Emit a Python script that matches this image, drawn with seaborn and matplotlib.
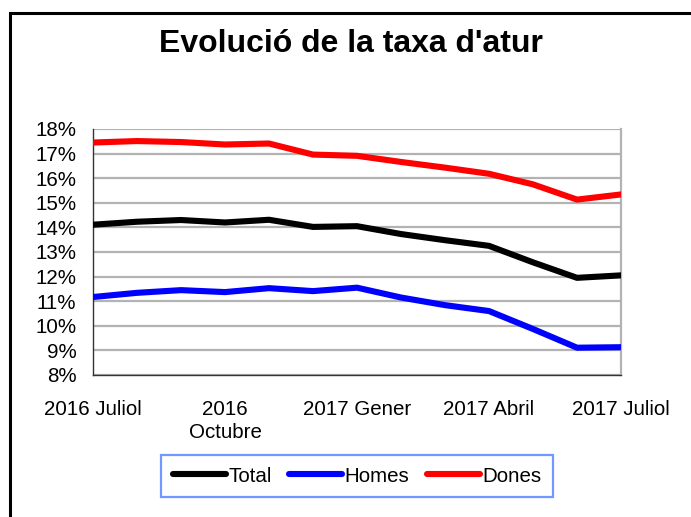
import numpy as np
import pandas as pd
import matplotlib
matplotlib.use("Agg")
import matplotlib.pyplot as plt
import seaborn as sns
from matplotlib.lines import Line2D
from matplotlib.patches import Rectangle

months = ["2016 Juliol", "2016 Agost", "2016 Setembre", "2016 Octubre", "2016 Novembre",
          "2016 Desembre", "2017 Gener", "2017 Febrer", "2017 Març", "2017 Abril",
          "2017 Maig", "2017 Juny", "2017 Juliol"]
total = [14.11, 14.23, 14.30, 14.20, 14.31, 14.02, 14.05, 13.73, 13.48, 13.25, 12.58, 11.95, 12.05]
homes = [11.17, 11.34, 11.45, 11.37, 11.53, 11.41, 11.55, 11.15, 10.84, 10.60, 9.87, 9.11, 9.13]
dones = [17.45, 17.51, 17.47, 17.37, 17.41, 16.96, 16.91, 16.66, 16.43, 16.18, 15.75, 15.13, 15.34]
tick_labels = ["2016 Juliol", "2016\nOctubre", "2017 Gener", "2017 Abril", "2017 Juliol"]

series = {"Total": total, "Homes": homes, "Dones": dones}
colors = {"Total": "#000000", "Homes": "#0000ff", "Dones": "#ff0000"}

df = pd.DataFrame(
    [{"mes": i, "serie": k, "taxa": v} for k, vals in series.items() for i, v in enumerate(vals)]
)

sns.set_style("white")
plt.rcParams["font.family"] = ["Liberation Sans", "DejaVu Sans"]
plt.rcParams["text.color"] = "black"
plt.rcParams["xtick.color"] = "black"
plt.rcParams["ytick.color"] = "black"

fig = plt.figure(figsize=(6.91, 5.17), dpi=100)
ax = fig.add_axes([93 / 691, 1 - 375 / 517, (621 - 93) / 691, (375 - 129) / 517])

sns.lineplot(data=df, x="mes", y="taxa", hue="serie", palette=colors,
             linewidth=4.4, legend=False, ax=ax, zorder=3)

ax.set_xlim(0, len(months) - 1)
ax.set_ylim(8, 18)
ax.set_yticks(range(8, 19))
ax.set_yticklabels([f"{v}%" for v in range(8, 19)], fontsize=14.8)
ax.set_xticks(range(len(months)))
ax.set_xticklabels([tick_labels[i // 3] if i % 3 == 0 else "" for i in range(len(months))],
                   fontsize=14.8, linespacing=1.3)
ax.set_xlabel("")
ax.set_ylabel("")

ax.yaxis.grid(True, color="#b3b3b3", linewidth=1.6, zorder=0)
ax.set_axisbelow(True)
ax.spines["top"].set_visible(False)
ax.spines["right"].set_color("#b3b3b3")
ax.spines["right"].set_linewidth(1.6)
ax.spines["left"].set_color("#333333")
ax.spines["bottom"].set_color("#333333")
ax.spines["left"].set_linewidth(1.0)
ax.spines["bottom"].set_linewidth(1.0)
ax.tick_params(axis="x", direction="out", length=5, width=1, color="#333333", pad=13)
ax.tick_params(axis="y", direction="out", length=4, width=1, color="#333333", pad=8)

fig.text(351 / 691, 1 - 44 / 517, "Evolució de la taxa d'atur", ha="center", va="center",
         fontsize=23, fontweight="bold")

handles = [Line2D([0], [0], color=colors[k], linewidth=4.4, solid_capstyle="round") for k in series]
leg = fig.legend(handles, list(series.keys()), loc="center", ncol=3,
                 bbox_to_anchor=(357 / 691, 1 - 476 / 517), fontsize=14.8, frameon=True,
                 fancybox=False, handlelength=2.6, handletextpad=0.1, columnspacing=0.85,
                 borderpad=0.55, borderaxespad=0)
leg.get_frame().set_edgecolor("#4d7fff")
leg.get_frame().set_linewidth(1.6)

fig.patches.append(Rectangle((10 / 691, -0.1), 1.2, 1 - 13 / 517 + 0.1, transform=fig.transFigure,
                             fill=False, edgecolor="black", linewidth=2.2))

fig.savefig("out.png", dpi=100)
